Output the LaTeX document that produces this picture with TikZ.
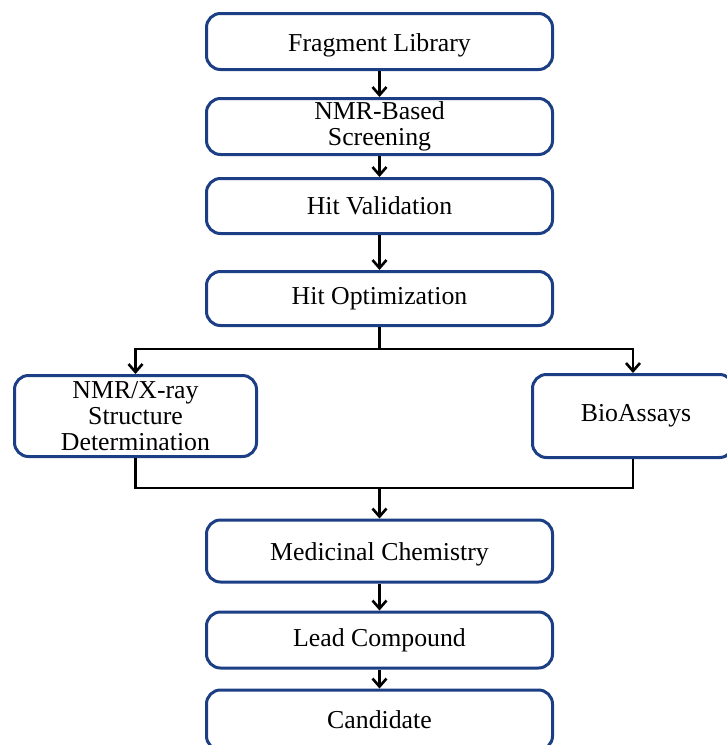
\documentclass[tikz,border=0pt]{standalone}
\usepackage{fontspec}
\setmainfont{Liberation Serif}
\usetikzlibrary{arrows.meta}
\definecolor{boxblue}{RGB}{28,62,132}
\tikzset{
  stepbox/.style={draw=boxblue, line width=3pt, rounded corners=14pt, fill=white,
    align=center, inner sep=0pt, text=black,
    font=\fontsize{25.8}{26.3}\selectfont},
  conn/.style={draw=black, line width=2.6pt},
  arr/.style={conn, -{Straight Barb[length=8pt,width=14pt,line width=2.6pt]}}
}
\begin{document}
\begin{tikzpicture}[x=1pt,y=-1pt]
\clip (0,0) rectangle (727,745);
\useasboundingbox (0,0) rectangle (727,745);
\node[stepbox, minimum width=346pt, minimum height=56pt] (frag) at (379.5,41.5) {\raisebox{-4pt}[\height][\depth]{Fragment Library}};
\node[stepbox, minimum width=346pt, minimum height=56pt] (nmr) at (379.5,126.5) {NMR-Based\\Screening};
\node[stepbox, minimum width=346pt, minimum height=55pt] (hitv) at (379.5,206) {Hit Validation};
\node[stepbox, minimum width=346pt, minimum height=54pt] (hito) at (379.5,298.5) {Hit Optimization};
\node[stepbox, minimum width=242pt, minimum height=81pt] (xray) at (135.5,416) {NMR/X-ray\\Structure\\Determination};
\node[stepbox, minimum width=201pt, minimum height=83pt] (bio) at (633,416) {\hspace*{6pt}BioAssays};
\node[stepbox, minimum width=346pt, minimum height=62pt] (med) at (379.5,551) {\raisebox{-3pt}[\height][\depth]{Medicinal Chemistry}};
\node[stepbox, minimum width=346pt, minimum height=56pt] (lead) at (379.5,640) {Lead Compound};
\node[stepbox, minimum width=346pt, minimum height=60pt] (cand) at (379.5,720) {Candidate};
\coordinate (split) at (379.5,349);
\coordinate (join) at (379.5,488);
\draw[arr] (frag.south) -- (nmr.north);
\draw[arr] (nmr.south) -- (hitv.north);
\draw[arr] (hitv.south) -- (hito.north);
\draw[conn] (hito.south) -- (split);
\draw[arr] (split) -| (xray.north);
\draw[arr] (split) -| (bio.north);
\draw[conn] (xray.south) |- (join);
\draw[conn] (bio.south) |- (join);
\draw[arr] (join) -- (med.north);
\draw[arr] (med.south) -- (lead.north);
\draw[arr] (lead.south) -- (cand.north);
\end{tikzpicture}
\end{document}
